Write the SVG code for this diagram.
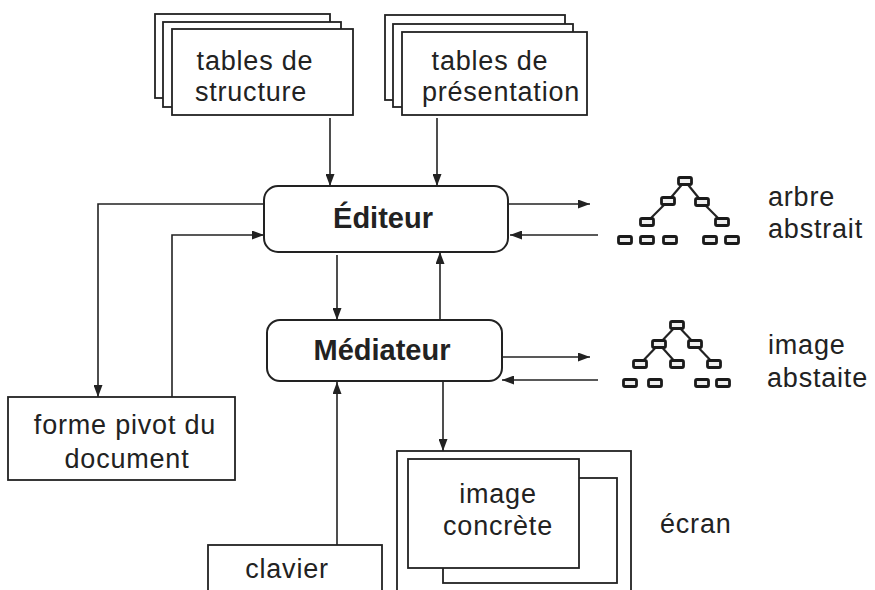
<svg xmlns="http://www.w3.org/2000/svg" width="875" height="590" viewBox="0 0 875 590">
  <style>
    .box { fill: #fff; stroke: #222; stroke-width: 1.8; }
    .rbox { fill: #fff; stroke: #222; stroke-width: 2; }
    .lbl { font-family: "Liberation Sans", Arial, sans-serif; font-size: 27px; letter-spacing: 0.8px; fill: #222; text-anchor: middle; }
    .lft { text-anchor: start; }
    .bold { font-weight: bold; font-size: 29px; letter-spacing: 0; }
    .cn { fill: none; stroke: #222; stroke-width: 1.6; }
    .te { stroke: #222; stroke-width: 2.2; }
    .tn { fill: #eee; stroke: #1a1a1a; stroke-width: 2.8; }
  </style>
  <defs>
    <marker id="arr" viewBox="0 0 12 9" refX="12" refY="4.5" markerWidth="12" markerHeight="9" markerUnits="userSpaceOnUse" orient="auto">
      <path d="M0,0 L12,4.5 L0,9 z" fill="#222"/>
    </marker>
    <rect id="node" x="-6.5" y="-3.5" width="13" height="7" rx="1.5" class="tn"/>
  </defs>
  <rect width="875" height="590" fill="#fff"/>

  <!-- connectors -->
  <g id="connectors">
    <path class="cn" d="M330,118 V186" marker-end="url(#arr)"/>
    <path class="cn" d="M437,118 V186" marker-end="url(#arr)"/>
    <path class="cn" d="M264,204 H98 V397" marker-end="url(#arr)"/>
    <path class="cn" d="M172,397 V235 H264" marker-end="url(#arr)"/>
    <path class="cn" d="M337,255 V320" marker-end="url(#arr)"/>
    <path class="cn" d="M440,320 V252" marker-end="url(#arr)"/>
    <path class="cn" d="M508,204 H590" marker-end="url(#arr)"/>
    <path class="cn" d="M598,235 H510" marker-end="url(#arr)"/>
    <path class="cn" d="M502,357 H590" marker-end="url(#arr)"/>
    <path class="cn" d="M598,380 H502" marker-end="url(#arr)"/>
    <path class="cn" d="M443,381 V451" marker-end="url(#arr)"/>
    <path class="cn" d="M337,545 V382" marker-end="url(#arr)"/>
  </g>

  <!-- structure tables (stack of three sheets) -->
  <g id="tables-structure">
    <rect class="box" x="155" y="14" width="175" height="84"/>
    <rect class="box" x="163" y="22" width="178" height="85"/>
    <rect class="box" x="172" y="29" width="181" height="86"/>
    <text class="lbl" x="255" y="70">tables de</text>
    <text class="lbl" x="251" y="101">structure</text>
  </g>

  <!-- presentation tables (stack of three sheets) -->
  <g id="tables-presentation">
    <rect class="box" x="385" y="15" width="180" height="85"/>
    <rect class="box" x="393" y="24" width="180" height="83"/>
    <rect class="box" x="402" y="32" width="185" height="83"/>
    <text class="lbl" x="490" y="70">tables de</text>
    <text class="lbl" x="501" y="101">présentation</text>
  </g>

  <g id="editeur">
    <rect class="rbox" x="264" y="186" width="244" height="66" rx="14"/>
    <text class="lbl bold" x="383" y="228">Éditeur</text>
  </g>

  <g id="mediateur">
    <rect class="rbox" x="267" y="320" width="235" height="61" rx="13"/>
    <text class="lbl bold" x="382" y="360">Médiateur</text>
  </g>

  <g id="forme-pivot">
    <rect class="box" x="8" y="397" width="227" height="83"/>
    <text class="lbl" x="125" y="434">forme pivot du</text>
    <text class="lbl" x="127" y="468">document</text>
  </g>

  <g id="clavier">
    <rect class="box" x="208" y="545" width="174" height="55"/>
    <text class="lbl" x="287" y="578">clavier</text>
  </g>

  <g id="ecran">
    <rect class="box" x="397" y="451" width="234" height="150"/>
    <rect class="box" x="443" y="478" width="174" height="105"/>
    <rect class="box" x="408" y="459" width="171" height="109"/>
    <text class="lbl" x="498" y="503">image</text>
    <text class="lbl" x="498" y="535">concrète</text>
    <text class="lbl lft" x="660" y="533">écran</text>
  </g>

  <!-- abstract tree -->
  <g id="arbre-abstrait">
    <line class="te" x1="685" y1="181" x2="668" y2="201"/>
    <line class="te" x1="685" y1="181" x2="702" y2="202"/>
    <line class="te" x1="668" y1="201" x2="647" y2="222"/>
    <line class="te" x1="702" y1="202" x2="722" y2="222"/>
    <use href="#node" x="685" y="181"/>
    <use href="#node" x="668" y="201"/>
    <use href="#node" x="702" y="202"/>
    <use href="#node" x="647" y="222"/>
    <use href="#node" x="722" y="222"/>
    <use href="#node" x="625" y="240"/>
    <use href="#node" x="647" y="240"/>
    <use href="#node" x="670" y="240"/>
    <use href="#node" x="710" y="240"/>
    <use href="#node" x="732" y="240"/>
    <text class="lbl lft" x="768" y="206">arbre</text>
    <text class="lbl lft" x="768" y="238">abstrait</text>
  </g>

  <!-- abstract image tree -->
  <g id="image-abstraite">
    <line class="te" x1="677" y1="325" x2="659" y2="344"/>
    <line class="te" x1="677" y1="325" x2="695" y2="344"/>
    <line class="te" x1="659" y1="344" x2="640" y2="364"/>
    <line class="te" x1="659" y1="344" x2="677" y2="364"/>
    <line class="te" x1="695" y1="344" x2="714" y2="364"/>
    <use href="#node" x="677" y="325"/>
    <use href="#node" x="659" y="344"/>
    <use href="#node" x="695" y="344"/>
    <use href="#node" x="640" y="364"/>
    <use href="#node" x="677" y="364"/>
    <use href="#node" x="714" y="364"/>
    <use href="#node" x="630" y="383"/>
    <use href="#node" x="655" y="383"/>
    <use href="#node" x="702" y="383"/>
    <use href="#node" x="723" y="383"/>
    <text class="lbl lft" x="768" y="354">image</text>
    <text class="lbl lft" x="767" y="387">abstaite</text>
  </g>
</svg>
